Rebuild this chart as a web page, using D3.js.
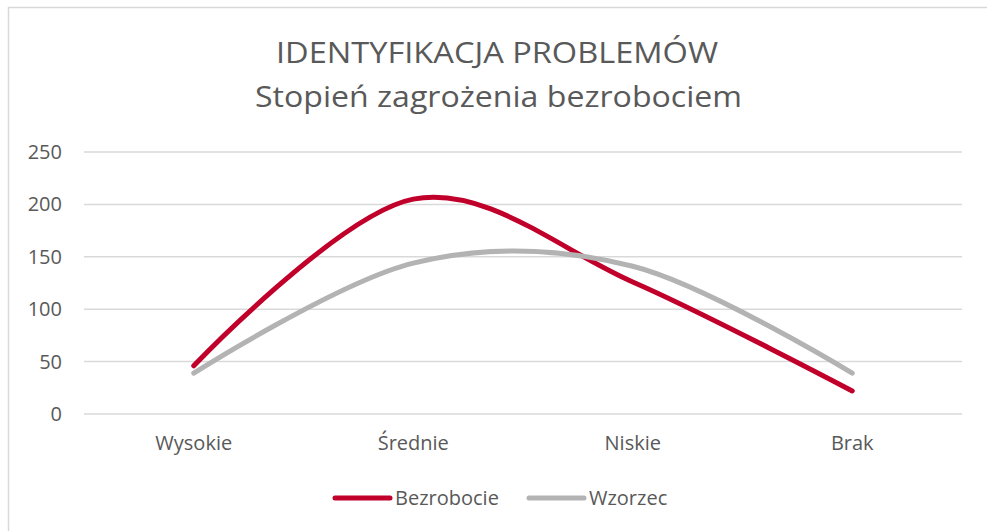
<!DOCTYPE html>
<html><head><meta charset="utf-8">
<script src="https://cdn.jsdelivr.net/npm/d3@7"></script>
<style>html,body{margin:0;padding:0;background:#fff;}svg{display:block;}</style>
</head><body>
<svg id="c" width="987" height="531"></svg>
<script>
const categories = ["Wysokie", "Średnie", "Niskie", "Brak"];
const bezrobocie = [46, 205, 126, 22];
const wzorzec = [39, 144, 141, 39];
const yTicks = [0, 50, 100, 150, 200, 250];
const seriesNames = ["Bezrobocie", "Wzorzec"];
const seriesColors = ["#C0002A", "#B3B3B3"];
const titleLines = ["IDENTYFIKACJA PROBLEMÓW", "Stopień zagrożenia bezrobociem"];

const svg = d3.select("#c");
const font = "'Open Sans', sans-serif";
const textCol = "#595959";

// border
svg.append("path").attr("d", "M8.5,531 V7.5 H987").attr("fill", "none")
  .attr("stroke", "#D9D9D9").attr("stroke-width", 1.5);

const x = d3.scaleBand().domain(categories).range([84, 962]);
const y = d3.scaleLinear().domain([0, 250]).range([414, 152]);

// gridlines
svg.append("g").selectAll("line").data(yTicks).join("line")
  .attr("x1", 84).attr("x2", 962)
  .attr("y1", d => y(d)).attr("y2", d => y(d))
  .attr("stroke", "#D9D9D9").attr("stroke-width", 1.5);

// y axis
const ya = svg.append("g").attr("transform", "translate(62,0)")
  .call(d3.axisLeft(y).tickValues(yTicks).tickSize(0).tickPadding(0));
ya.select(".domain").remove();
ya.selectAll("text").attr("font-family", font).attr("font-size", 20).attr("fill", textCol);

// x axis
const xa = svg.append("g").attr("transform", "translate(0,436)")
  .call(d3.axisBottom(x).tickSize(0).tickPadding(0));
xa.select(".domain").remove();
xa.selectAll("text").attr("font-family", font).attr("font-size", 20).attr("fill", textCol);

const cx = d => x(d) + x.bandwidth() / 2;
const line = d3.line().x(d => cx(d.c)).y(d => y(d.v)).curve(d3.curveCardinal.tension(0));

[bezrobocie, wzorzec].forEach((vals, i) => {
  const data = categories.map((c, j) => ({c, v: vals[j]}));
  svg.append("path").datum(data).attr("d", line)
    .attr("fill", "none").attr("stroke", seriesColors[i])
    .attr("stroke-width", 5).attr("stroke-linecap", "round").attr("stroke-linejoin", "round");
});

// title
const tSpecs = [{y: 63, w: 442, cx: 497}, {y: 107, w: 487, cx: 498.5}];
titleLines.forEach((t, i) => {
  const el = svg.append("text").text(t)
    .attr("x", tSpecs[i].cx).attr("y", tSpecs[i].y)
    .attr("text-anchor", "middle").attr("font-family", font)
    .attr("font-size", 29).attr("fill", textCol);
  el.attr("textLength", tSpecs[i].w).attr("lengthAdjust", "spacingAndGlyphs");
});

// legend
const lg = [{x1: 335, x2: 390, tx: 395}, {x1: 529, x2: 584, tx: 589}];
seriesNames.forEach((n, i) => {
  svg.append("line").attr("x1", lg[i].x1).attr("x2", lg[i].x2).attr("y1", 498).attr("y2", 498)
    .attr("stroke", seriesColors[i]).attr("stroke-width", 5).attr("stroke-linecap", "round");
  svg.append("text").text(n).attr("x", lg[i].tx).attr("y", 505)
    .attr("font-family", font).attr("font-size", 20).attr("fill", textCol);
});
</script>
</body></html>
